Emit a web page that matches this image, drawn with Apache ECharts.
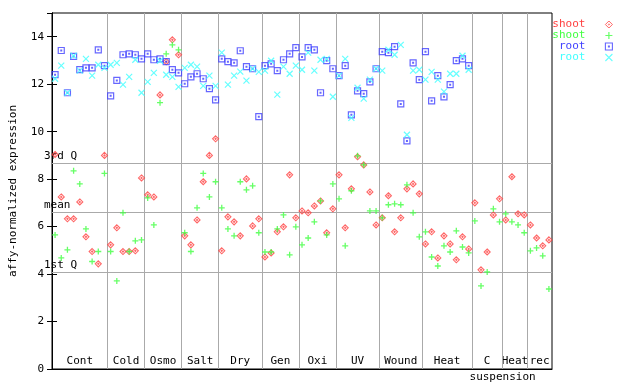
<!DOCTYPE html>
<html><head><meta charset="utf-8">
<script src="https://cdn.jsdelivr.net/npm/echarts@6/dist/echarts.min.js"></script>
<style>html,body{margin:0;padding:0;background:#fff}#c{width:640px;height:384px}</style>
</head><body><div id="c"></div>
<script>
var groupNames = ['Cont','Cold','Osmo','Salt','Dry','Gen','Oxi','UV','Wound','Heat','C','Heat','rec'];
var groupSizes = [9,6,6,6,7,6,6,7,7,8,5,4,4];
var quartileNames = ['3rd Q','mean','1st Q'];
var quartileValues = [8.69, 6.62, 4.09];
var yTicks = [0,2,4,6,8,10,12,14];

var shootA = [9.04,7.25,6.33,6.33,7.04,5.57,4.95,4.43,9.0,5.23,5.95,4.95,4.95,4.98,8.05,7.34,7.25,11.55,12.95,13.87,13.24,5.61,5.23,6.28,7.89,9.0,9.70,4.98,6.41,6.20,5.61,8.01,6.03,6.33,4.72,4.89,5.78,5.99,8.18,6.37,6.66,6.58,6.87,7.08,5.74,6.75,8.18,5.95,7.59,8.94,8.60,7.46,6.07,6.37,7.30,5.78,6.37,7.59,7.80,7.38,5.27,5.78,4.68,5.61,5.27,4.60,5.57,5.06,7.00,4.18,4.93,6.49,7.17,6.28,8.10,6.54,6.49,6.07,5.52,5.19,5.44];
var shootB = [5.65,4.68,5.02,8.35,7.80,5.90,4.53,4.95,8.24,4.95,3.71,6.58,4.95,5.40,5.44,7.21,6.07,11.22,13.28,13.66,13.45,5.74,4.95,6.79,8.24,7.25,7.89,6.79,5.90,5.61,7.89,7.55,7.72,5.74,4.93,4.93,5.90,6.49,4.81,5.99,5.23,5.52,6.20,7.08,5.65,7.80,7.17,5.19,7.51,8.98,8.60,6.66,6.66,6.37,6.92,6.96,6.92,7.76,6.58,5.57,5.78,4.72,4.34,5.19,4.93,5.82,5.14,4.89,6.24,3.50,4.09,6.75,6.20,6.54,6.20,6.07,5.74,4.98,5.10,4.77,3.37];
var rootA = [12.40,13.42,11.64,13.17,12.61,12.69,12.69,13.45,12.78,11.51,12.16,13.24,13.28,13.24,13.07,13.28,13.03,13.07,12.95,12.61,12.48,12.02,12.31,12.44,12.23,11.81,11.34,13.07,12.95,12.90,13.41,12.74,12.65,10.63,12.78,12.86,12.57,13.03,13.28,13.54,13.15,13.54,13.45,11.64,12.99,12.65,12.36,12.78,10.71,11.72,11.60,12.10,12.65,13.37,13.33,13.58,11.17,9.61,12.90,12.19,13.37,11.30,12.36,11.47,11.98,12.99,13.07,12.78];
var rootB = [12.23,12.78,11.64,13.20,12.57,13.07,12.36,12.82,12.69,12.82,12.90,11.98,12.31,13.03,11.64,12.10,12.48,12.99,12.40,12.31,11.89,12.69,12.82,12.74,11.93,12.36,11.93,13.33,11.98,12.36,12.53,12.15,12.65,12.52,12.57,12.99,11.56,12.74,12.44,12.78,12.61,13.33,12.57,13.03,13.07,11.47,12.36,13.07,10.58,11.85,11.39,12.19,12.65,12.57,13.45,13.24,13.66,9.87,12.57,12.61,12.19,12.52,12.19,11.69,12.44,12.44,13.20,12.61];

var total = groupSizes.reduce(function(a,b){return a+b;},0);
var bounds = [], centers = [], acc = 0;
groupSizes.forEach(function(s){ centers.push(acc + s/2); acc += s; bounds.push(acc); });
bounds.pop();
function pts(arr){ return arr.map(function(v,i){ return [i+0.5, v]; }); }

var FONT = 'DejaVu Sans Mono';
var RED='#ff4040', GREEN='#40ff40', BLUE='#4040ff', CYAN='#40ffff';
var DIAMOND = 'path://M3,0L6,3L3,6L0,3Z M3,2.4L3.6,3L3,3.6L2.4,3Z';
var SQUARE = 'path://M0,0H6V6H0Z M2.6,2.6H3.4V3.4H2.6Z';
var PLUS = 'path://M3,0V6M0,3H6';
var CROSS = 'path://M0,0L6,6M6,0L0,6';
var NOFILL = 'rgba(0,0,0,0)';

var chart = echarts.init(document.getElementById('c'));
var markLines = bounds.map(function(b){ return {xAxis: b}; }).concat(
  quartileValues.map(function(v,k){ return {yAxis: v, name: quartileNames[k], label:{show:true}}; }));

chart.setOption({
  animation: false,
  grid: {left: 44, right: 88, top: 13, bottom: 15, show: true, borderColor: '#000', borderWidth: 1},
  legend: {
    orient: 'vertical', right: 27, top: 19, padding: 0, itemGap: 0,
    align: 'right', itemWidth: 7, itemHeight: 7,
    textStyle: {fontFamily: FONT, fontSize: 11, lineHeight: 11, padding: [0, 15, 0, 0]},
    data: [
      {name: 'shoot', textStyle: {color: RED}, itemStyle: {color: NOFILL, borderColor: RED, borderWidth: 1}},
      {name: 'shoot ', textStyle: {color: GREEN}, itemStyle: {color: NOFILL, borderColor: GREEN, borderWidth: 1.2}},
      {name: 'root', textStyle: {color: BLUE}, itemStyle: {color: NOFILL, borderColor: BLUE, borderWidth: 1.1}},
      {name: 'root ', textStyle: {color: CYAN}, itemStyle: {color: NOFILL, borderColor: CYAN, borderWidth: 1.1}}
    ],
    formatter: function(n){ return n.trim(); }
  },
  xAxis: [{
    type: 'value', min: 0, max: total, position: 'bottom',
    axisLine: {show: true, lineStyle: {color: '#000'}},
    axisTick: {show: false}, splitLine: {show: false},
    axisLabel: {inside: true, margin: 2, customValues: centers,
      fontFamily: FONT, fontSize: 11, color: '#000',
      formatter: function(v){ var k = centers.indexOf(v); return k >= 0 ? groupNames[k] : ''; }}
  },{
    type: 'value', min: 0, max: total, position: 'bottom',
    axisLine: {show: false}, axisTick: {show: false}, splitLine: {show: false},
    axisLabel: {margin: 3, customValues: [bounds[10]], fontFamily: FONT, fontSize: 11, color: '#000',
      formatter: function(){ return 'suspension'; }}
  }],
  yAxis: [{
    type: 'value', min: 0, max: 15, interval: 2, position: 'left',
    name: 'affy-normalized expression', nameLocation: 'middle', nameGap: 33,
    nameTextStyle: {fontFamily: FONT, fontSize: 11, color: '#000'},
    axisLine: {show: true, lineStyle: {color: '#000'}},
    axisTick: {show: true, inside: true, length: 5, lineStyle: {color: '#000'}},
    splitLine: {show: false},
    axisLabel: {showMaxLabel: false, margin: 8, fontFamily: FONT, fontSize: 11, color: '#000'}
  },{
    type: 'value', min: 0, max: 15, interval: 2, position: 'right',
    axisLine: {show: true, lineStyle: {color: '#000'}},
    axisTick: {show: true, inside: true, length: 5, lineStyle: {color: '#000'}},
    splitLine: {show: false}, axisLabel: {show: false}
  }],
  series: [
    {name: 'shoot', type: 'scatter', data: pts(shootA), symbol: DIAMOND, symbolSize: 6,
     itemStyle: {color: NOFILL, borderColor: RED, borderWidth: 1.1}, z: 3,
     markLine: {silent: true, z: 1, symbol: ['none','none'], animation: false,
       lineStyle: {color: '#aaaaaa', width: 1, type: 'solid'},
       label: {show: false, position: 'insideStartTop', formatter: '{b}', distance: [-8, 1],
         fontFamily: FONT, fontSize: 11, color: '#000'},
       data: markLines}},
    {name: 'shoot ', type: 'scatter', data: pts(shootB), symbol: PLUS, symbolSize: 6,
     itemStyle: {color: NOFILL, borderColor: GREEN, borderWidth: 1.3}, z: 3},
    {name: 'root', type: 'scatter', data: pts(rootA), symbol: SQUARE, symbolSize: 6,
     itemStyle: {color: NOFILL, borderColor: BLUE, borderWidth: 1.2}, z: 3},
    {name: 'root ', type: 'scatter', data: pts(rootB), symbol: CROSS, symbolSize: 6,
     itemStyle: {color: NOFILL, borderColor: CYAN, borderWidth: 1.2}, z: 3}
  ]
});
</script></body></html>
